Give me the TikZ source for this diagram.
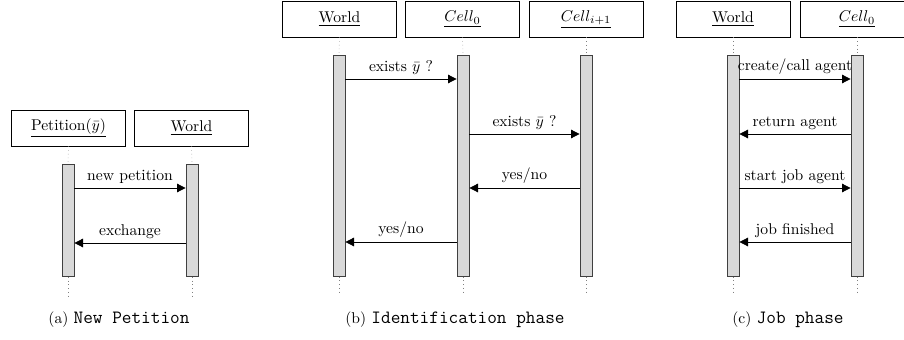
\documentclass[tikz,border=0pt]{standalone}
\usetikzlibrary{arrows.meta}
\tikzset{
  obj/.style={draw, line width=0.5pt, minimum width=73pt, minimum height=23pt, inner sep=0pt},
  act/.style={draw=black!75, fill=black!15, line width=0.5pt, minimum width=7.7pt, inner sep=0pt, anchor=north},
  life/.style={dotted, black!50, line width=0.4pt},
  msg/.style={-{Triangle[length=5.5pt,width=5.5pt]}, line width=0.5pt},
  lbl/.style={above, inner sep=2.5pt},
  captext/.style={inner sep=1pt}
}
\newcommand{\captt}[1]{{\fontsize{12}{14}\selectfont\ttfamily #1}}
\begin{document}
\begin{tikzpicture}[x=0.64pt,y=0.64pt]
	\useasboundingbox (0,0) rectangle (904,339);
	\clip (0,0) rectangle (904,339);
	% (a) new petition
	\node[obj] (aP) at (68.5,211) {\underline{Petition$(\bar y)$}};
	\node[obj] (aW) at (191.5,211) {\underline{World}};
	\node[act, minimum height=71.7pt] (aPb) at (68,175) {};
	\node[act, minimum height=71.7pt] (aWb) at (192,175) {};
	\coordinate (aPe) at (68,42);
	\coordinate (aWe) at (192,42);
	\draw[life] (aP.south) -- (aPb.north);
	\draw[life] (aW.south) -- (aWb.north);
	\draw[life] (aPb.south) -- (aPe);
	\draw[life] (aWb.south) -- (aWe);
	\coordinate (a1) at (0,151);
	\coordinate (a2) at (0,96);
	\draw[msg] (aPb.east |- a1) -- node[lbl] {new petition} (aWb.west |- a1);
	\draw[msg] (aWb.west |- a2) -- node[lbl] {exchange} (aPb.east |- a2);
	\node[captext] (capA) at (119,19) {(a) \captt{New Petition}};
	% (b) identification phase
	\node[obj] (bW) at (339.5,320) {\underline{World}};
	\node[obj] (bC) at (462.5,320) {$\underline{Cell_0}$};
	\node[obj] (bN) at (586,320) {$\underline{Cell_{i+1}}$};
	\node[act, minimum height=141.4pt] (bWb) at (339,284) {};
	\node[act, minimum height=141.4pt] (bCb) at (463,284) {};
	\node[act, minimum height=141.4pt] (bNb) at (586,284) {};
	\coordinate (bWe) at (339,45);
	\coordinate (bCe) at (463,45);
	\coordinate (bNe) at (586,45);
	\draw[life] (bW.south) -- (bWb.north);
	\draw[life] (bC.south) -- (bCb.north);
	\draw[life] (bN.south) -- (bNb.north);
	\draw[life] (bWb.south) -- (bWe);
	\draw[life] (bCb.south) -- (bCe);
	\draw[life] (bNb.south) -- (bNe);
	\coordinate (b1) at (0,260);
	\coordinate (b2) at (0,205);
	\coordinate (b3) at (0,151);
	\coordinate (b4) at (0,97);
	\draw[msg] (bWb.east |- b1) -- node[lbl] {exists $\bar y$ ?} (bCb.west |- b1);
	\draw[msg] (bCb.east |- b2) -- node[lbl] {exists $\bar y$ ?} (bNb.west |- b2);
	\draw[msg] (bNb.west |- b3) -- node[lbl] {yes/no} (bCb.east |- b3);
	\draw[msg] (bCb.west |- b4) -- node[lbl] {yes/no} (bWb.east |- b4);
	\node[captext] (capB) at (455,19) {(b) \captt{Identification phase}};
	% (c) job phase
	\node[obj] (cW) at (733,320) {\underline{World}};
	\node[obj] (cC) at (857,320) {$\underline{Cell_0}$};
	\node[act, minimum height=141.4pt] (cWb) at (733,284) {};
	\node[act, minimum height=141.4pt] (cCb) at (857,284) {};
	\coordinate (cWe) at (733,45);
	\coordinate (cCe) at (857,45);
	\draw[life] (cW.south) -- (cWb.north);
	\draw[life] (cC.south) -- (cCb.north);
	\draw[life] (cWb.south) -- (cWe);
	\draw[life] (cCb.south) -- (cCe);
	\coordinate (c1) at (0,260);
	\coordinate (c2) at (0,205);
	\coordinate (c3) at (0,151);
	\coordinate (c4) at (0,97);
	\draw[msg] (cWb.east |- c1) -- node[lbl] {create/call agent} (cCb.west |- c1);
	\draw[msg] (cCb.west |- c2) -- node[lbl] {return agent} (cWb.east |- c2);
	\draw[msg] (cWb.east |- c3) -- node[lbl] {start job agent} (cCb.west |- c3);
	\draw[msg] (cCb.west |- c4) -- node[lbl] {job finished} (cWb.east |- c4);
	\node[captext] (capC) at (788,19) {(c) \captt{Job phase}};
\end{tikzpicture}
\end{document}
